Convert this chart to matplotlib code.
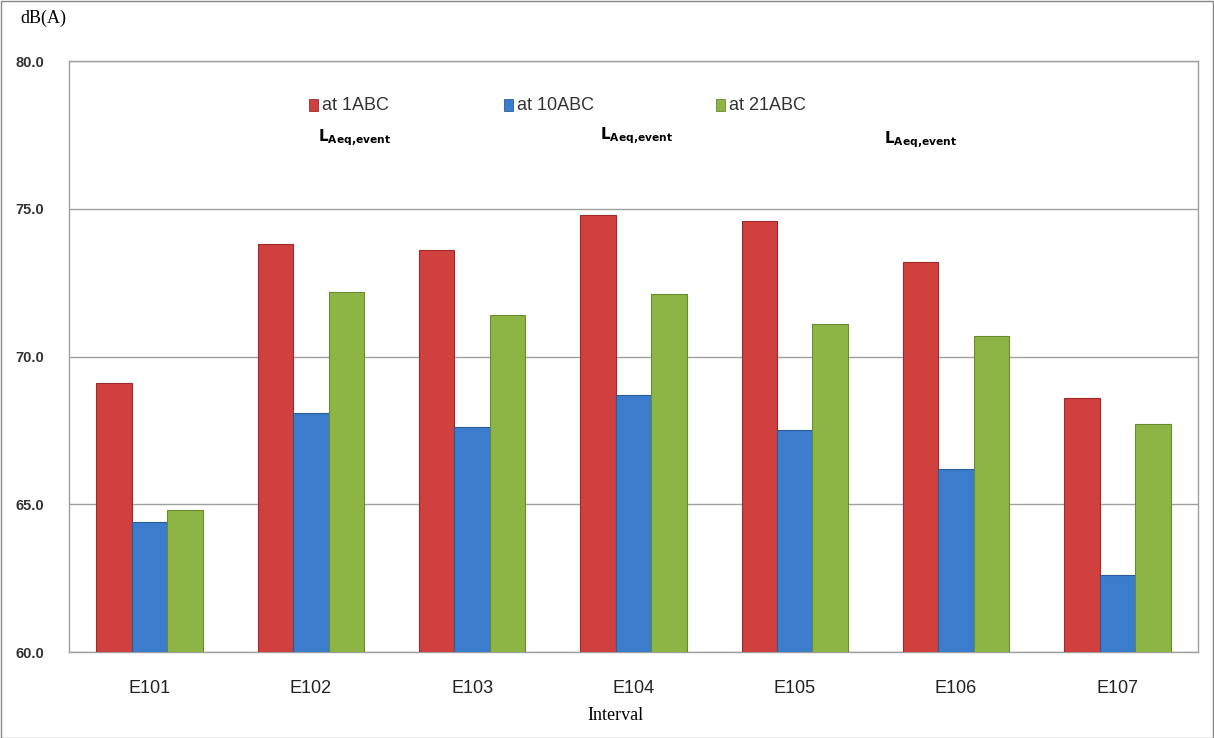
import matplotlib
matplotlib.use("Agg")
from matplotlib import pyplot as plt
from matplotlib.patches import Rectangle
import numpy as np

# categories and series (dB(A), L_Aeq,event)
intervals = ["E101", "E102", "E103", "E104", "E105", "E106", "E107"]
at_1abc = [69.1, 73.8, 73.6, 74.8, 74.6, 73.2, 68.6]
at_10abc = [64.4, 68.1, 67.6, 68.7, 67.5, 66.2, 62.6]
at_21abc = [64.8, 72.2, 71.4, 72.1, 71.1, 70.7, 67.7]
series_names = ["at 1ABC", "at 10ABC", "at 21ABC"]
y_ticks = [60.0, 65.0, 70.0, 75.0, 80.0]

colors = ["#D0403F", "#3B7DCC", "#8DB545"]
edges = ["#9E2A2A", "#2A5C99", "#6A8A30"]

fig = plt.figure(figsize=(12.14, 7.38), dpi=100)
ax = fig.add_axes([0.0568, 0.1165, 0.9300, 0.8008])

x = np.arange(len(intervals))
w = 0.22
for i, vals in enumerate([at_1abc, at_10abc, at_21abc]):
    ax.bar(x + (i - 1) * w, np.array(vals) - 60.0, width=w, bottom=60.0,
           color=colors[i], edgecolor=edges[i], linewidth=0.8, zorder=3)

ax.set_xlim(-0.5, len(intervals) - 0.5)
ax.set_ylim(60, 80)
ax.set_yticks(y_ticks)
ax.set_yticklabels([f"{t:.1f}" for t in y_ticks], fontfamily="Liberation Sans",
                   fontsize=10.5, fontweight="bold", color="#333333")
ax.set_xticks(x)
ax.set_xticklabels(intervals, fontfamily="Liberation Sans", fontsize=13, color="#222222")
ax.tick_params(axis="y", length=0, pad=18)
ax.tick_params(axis="x", length=0, pad=20)
ax.yaxis.grid(True, color="#A0A0A0", linewidth=1, zorder=0)
for s in ax.spines.values():
    s.set_color("#A0A0A0")
    s.set_linewidth(1)

fig.text(20 / 1214, 1 - 18 / 738, "dB(A)", fontfamily="Liberation Serif", fontsize=13,
         va="center", ha="left")
fig.text(615 / 1214, 1 - 715 / 738, "Interval", fontfamily="Liberation Serif",
         fontsize=13, va="center", ha="center")

# legend
leg_x = [309, 504, 716]
sub_x = [318, 600, 884]
sub_y = [138, 136, 140]
for i, name in enumerate(series_names):
    fig.patches.append(Rectangle((leg_x[i] / 1214, 1 - 111 / 738), 9 / 1214, 12 / 738,
                                 transform=fig.transFigure, facecolor=colors[i],
                                 edgecolor=edges[i], linewidth=0.6))
    fig.text((leg_x[i] + 13) / 1214, 1 - 105 / 738, name, fontfamily="Liberation Sans",
             fontsize=13, va="center", ha="left", color="#333333")
    fig.text(sub_x[i] / 1214, 1 - sub_y[i] / 738, r"$\mathbf{L}_{\mathbf{Aeq{,}event}}$",
             fontsize=11, va="center", ha="left")

fig.patches.append(Rectangle((0.5 / 1214, 0.5 / 738), 1 - 1.5 / 1214, 1 - 1.5 / 738,
                             transform=fig.transFigure, fill=False,
                             edgecolor="#888888", linewidth=1))

fig.savefig("out.png", dpi=100)
